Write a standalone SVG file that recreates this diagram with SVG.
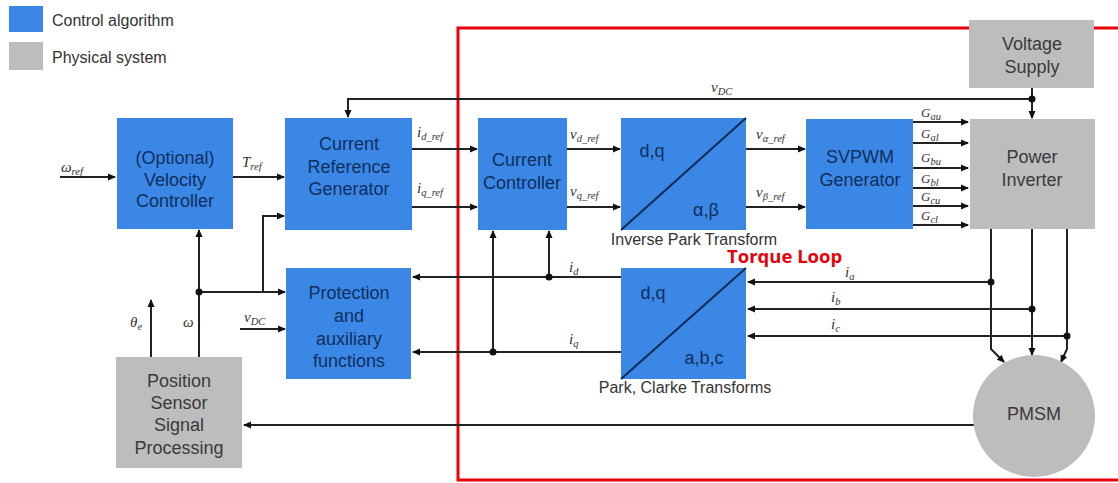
<svg xmlns="http://www.w3.org/2000/svg" width="1118" height="483" viewBox="0 0 1118 483">
<style>
.ctrl{fill:#3b87e6}
.phys{fill:#bdbdbd}
.bt{font-family:"Liberation Sans",Arial,sans-serif;font-size:18px;fill:#0f2f5e;text-anchor:middle}
.pt{font-family:"Liberation Sans",Arial,sans-serif;font-size:18px;fill:#3a3a3a;text-anchor:middle}
.leg{font-family:"Liberation Sans",Arial,sans-serif;font-size:16px;fill:#333}
.cap{font-family:"Liberation Sans",Arial,sans-serif;font-size:16px;fill:#333;text-anchor:middle}
.m{font-family:"Liberation Serif","Times New Roman",serif;font-style:italic;font-size:15px;fill:#333}
.s{font-size:10.5px}
.g{font-size:13px}
.ln{fill:none;stroke:#222;stroke-width:2}
.diag{stroke:#0c2a55;stroke-width:2}
.dot{fill:#111}
</style>
<defs>
<marker id="ar" markerWidth="8" markerHeight="8" refX="7" refY="4" orient="auto" markerUnits="userSpaceOnUse">
<path d="M0,0.5 L8,4 L0,7.5 Z" fill="#111"/>
</marker>
</defs>

<g id="legend">
<rect x="9" y="6" width="34" height="26" class="ctrl"/>
<text x="52" y="26" class="leg">Control algorithm</text>
<rect x="9" y="42" width="34" height="28" class="phys"/>
<text x="52" y="63" class="leg">Physical system</text>
</g>

<g id="torque-loop">
<path d="M1118,28 H458 V480 H1118" fill="none" stroke="#e8000b" stroke-width="3"/>
<text x="727" y="263" font-family="'Open Sans','Liberation Sans',sans-serif" font-weight="bold" font-size="18.5px" fill="#e8000b">Torque Loop</text>
</g>

<g id="connectors">
<line x1="60" y1="177" x2="115" y2="177" class="ln" marker-end="url(#ar)"/>
<line x1="233" y1="177" x2="284" y2="177" class="ln" marker-end="url(#ar)"/>
<path d="M1032,99 H348 V117" class="ln" marker-end="url(#ar)"/>
<line x1="1032" y1="88" x2="1032" y2="99" class="ln"/>
<line x1="1032" y1="99" x2="1032" y2="118" class="ln" marker-end="url(#ar)"/>
<line x1="412" y1="149" x2="477" y2="149" class="ln" marker-end="url(#ar)"/>
<line x1="412" y1="207" x2="477" y2="207" class="ln" marker-end="url(#ar)"/>
<line x1="567" y1="149" x2="620" y2="149" class="ln" marker-end="url(#ar)"/>
<line x1="567" y1="207" x2="620" y2="207" class="ln" marker-end="url(#ar)"/>
<line x1="746" y1="149" x2="805" y2="149" class="ln" marker-end="url(#ar)"/>
<line x1="746" y1="207" x2="805" y2="207" class="ln" marker-end="url(#ar)"/>
<line x1="913" y1="122" x2="968" y2="122" class="ln" marker-end="url(#ar)"/>
<line x1="913" y1="143" x2="968" y2="143" class="ln" marker-end="url(#ar)"/>
<line x1="913" y1="168" x2="968" y2="168" class="ln" marker-end="url(#ar)"/>
<line x1="913" y1="188" x2="968" y2="188" class="ln" marker-end="url(#ar)"/>
<line x1="913" y1="206" x2="968" y2="206" class="ln" marker-end="url(#ar)"/>
<line x1="913" y1="225" x2="968" y2="225" class="ln" marker-end="url(#ar)"/>
<path d="M991,229 V349 L1004,362" class="ln" marker-end="url(#ar)"/>
<path d="M1032,229 V355" class="ln" marker-end="url(#ar)"/>
<path d="M1067,229 V349 L1061,362" class="ln" marker-end="url(#ar)"/>
<line x1="991" y1="282" x2="748" y2="282" class="ln" marker-end="url(#ar)"/>
<line x1="1032" y1="309" x2="748" y2="309" class="ln" marker-end="url(#ar)"/>
<line x1="1067" y1="336" x2="748" y2="336" class="ln" marker-end="url(#ar)"/>
<line x1="621" y1="277" x2="413" y2="277" class="ln" marker-end="url(#ar)"/>
<line x1="621" y1="352" x2="413" y2="352" class="ln" marker-end="url(#ar)"/>
<line x1="549" y1="277" x2="549" y2="231" class="ln" marker-end="url(#ar)"/>
<line x1="493" y1="352" x2="493" y2="231" class="ln" marker-end="url(#ar)"/>
<line x1="199" y1="357" x2="199" y2="230" class="ln" marker-end="url(#ar)"/>
<line x1="199" y1="292" x2="285" y2="292" class="ln" marker-end="url(#ar)"/>
<path d="M263,292 V216 H284" class="ln" marker-end="url(#ar)"/>
<line x1="240" y1="329" x2="285" y2="329" class="ln" marker-end="url(#ar)"/>
<line x1="151" y1="357" x2="151" y2="300" class="ln" marker-end="url(#ar)"/>
<line x1="974" y1="425" x2="244" y2="425" class="ln" marker-end="url(#ar)"/>
<circle cx="1032" cy="99" r="3.5" class="dot"/>
<circle cx="991" cy="282" r="3.5" class="dot"/>
<circle cx="1032" cy="309" r="3.5" class="dot"/>
<circle cx="1067" cy="336" r="3.5" class="dot"/>
<circle cx="549" cy="277" r="3.5" class="dot"/>
<circle cx="493" cy="352" r="3.5" class="dot"/>
<circle cx="199" cy="292" r="3.5" class="dot"/>
</g>

<g id="labels">
<text x="61" y="172" class="m">ω<tspan class="s" dy="3">ref</tspan></text>
<text x="242" y="167" class="m">T<tspan class="s" dy="3">ref</tspan></text>
<text x="711" y="92" class="m">v<tspan class="s" dy="3">DC</tspan></text>
<text x="417" y="137" class="m">i<tspan class="s" dy="3">d_ref</tspan></text>
<text x="417" y="193" class="m">i<tspan class="s" dy="3">q_ref</tspan></text>
<text x="570" y="139" class="m">v<tspan class="s" dy="3">d_ref</tspan></text>
<text x="570" y="196" class="m">v<tspan class="s" dy="3">q_ref</tspan></text>
<text x="756" y="139" class="m">v<tspan class="s" dy="3">α_ref</tspan></text>
<text x="756" y="197" class="m">v<tspan class="s" dy="3">β_ref</tspan></text>
<text x="921" y="117" class="m g">G<tspan class="s" dy="3">au</tspan></text>
<text x="921" y="138" class="m g">G<tspan class="s" dy="3">al</tspan></text>
<text x="921" y="162" class="m g">G<tspan class="s" dy="3">bu</tspan></text>
<text x="921" y="183" class="m g">G<tspan class="s" dy="3">bl</tspan></text>
<text x="921" y="201" class="m g">G<tspan class="s" dy="3">cu</tspan></text>
<text x="921" y="220" class="m g">G<tspan class="s" dy="3">cl</tspan></text>
<text x="845" y="277" class="m">i<tspan class="s" dy="3">a</tspan></text>
<text x="831" y="302" class="m">i<tspan class="s" dy="3">b</tspan></text>
<text x="831" y="329" class="m">i<tspan class="s" dy="3">c</tspan></text>
<text x="569" y="272" class="m">i<tspan class="s" dy="3">d</tspan></text>
<text x="569" y="344" class="m">i<tspan class="s" dy="3">q</tspan></text>
<text x="244" y="322" class="m">v<tspan class="s" dy="3">DC</tspan></text>
<text x="130" y="327" class="m">θ<tspan class="s" dy="3">e</tspan></text>
<text x="183" y="327" class="m">ω</text>
</g>

<g id="velocity-controller">
<rect x="117" y="118" width="116" height="111" class="ctrl"/>
<text x="175" y="164" class="bt">(Optional)</text>
<text x="175" y="186" class="bt">Velocity</text>
<text x="175" y="207" class="bt">Controller</text>
</g>

<g id="current-reference-generator">
<rect x="285" y="118" width="127" height="112" class="ctrl"/>
<text x="349" y="150" class="bt">Current</text>
<text x="349" y="173" class="bt">Reference</text>
<text x="349" y="195" class="bt">Generator</text>
</g>

<g id="current-controller">
<rect x="478" y="118" width="89" height="112" class="ctrl"/>
<text x="522" y="166" class="bt">Current</text>
<text x="522" y="189" class="bt">Controller</text>
</g>

<g id="inverse-park">
<rect x="621" y="118" width="125" height="112" class="ctrl"/>
<line x1="621" y1="230" x2="746" y2="118" class="diag"/>
<text x="652" y="157" class="bt">d,q</text>
<text x="706" y="216" class="bt">α,β</text>
<text x="694" y="245" class="cap">Inverse Park Transform</text>
</g>

<g id="svpwm">
<rect x="806" y="119" width="107" height="110" class="ctrl"/>
<text x="860" y="163" class="bt">SVPWM</text>
<text x="860" y="186" class="bt">Generator</text>
</g>

<g id="voltage-supply">
<rect x="969" y="20" width="125" height="68" class="phys"/>
<text x="1032" y="50" class="pt">Voltage</text>
<text x="1032" y="73" class="pt">Supply</text>
</g>

<g id="power-inverter">
<rect x="970" y="119" width="125" height="110" class="phys"/>
<text x="1032" y="163" class="pt">Power</text>
<text x="1032" y="186" class="pt">Inverter</text>
</g>

<g id="park-clarke">
<rect x="621" y="268" width="125" height="111" class="ctrl"/>
<line x1="621" y1="379" x2="746" y2="268" class="diag"/>
<text x="653" y="299" class="bt">d,q</text>
<text x="704" y="364" class="bt">a,b,c</text>
<text x="685" y="393" class="cap">Park, Clarke Transforms</text>
</g>

<g id="protection">
<rect x="286" y="268" width="125" height="111" class="ctrl"/>
<text x="349" y="299" class="bt">Protection</text>
<text x="349" y="322" class="bt">and</text>
<text x="349" y="345" class="bt">auxiliary</text>
<text x="349" y="367" class="bt">functions</text>
</g>

<g id="position-sensor">
<rect x="116" y="357" width="126" height="111" class="phys"/>
<text x="179" y="387" class="pt">Position</text>
<text x="179" y="409" class="pt">Sensor</text>
<text x="179" y="431" class="pt">Signal</text>
<text x="179" y="454" class="pt">Processing</text>
</g>

<g id="pmsm">
<circle cx="1034" cy="416" r="61" class="phys"/>
<text x="1034" y="420" class="pt">PMSM</text>
</g>
</svg>
